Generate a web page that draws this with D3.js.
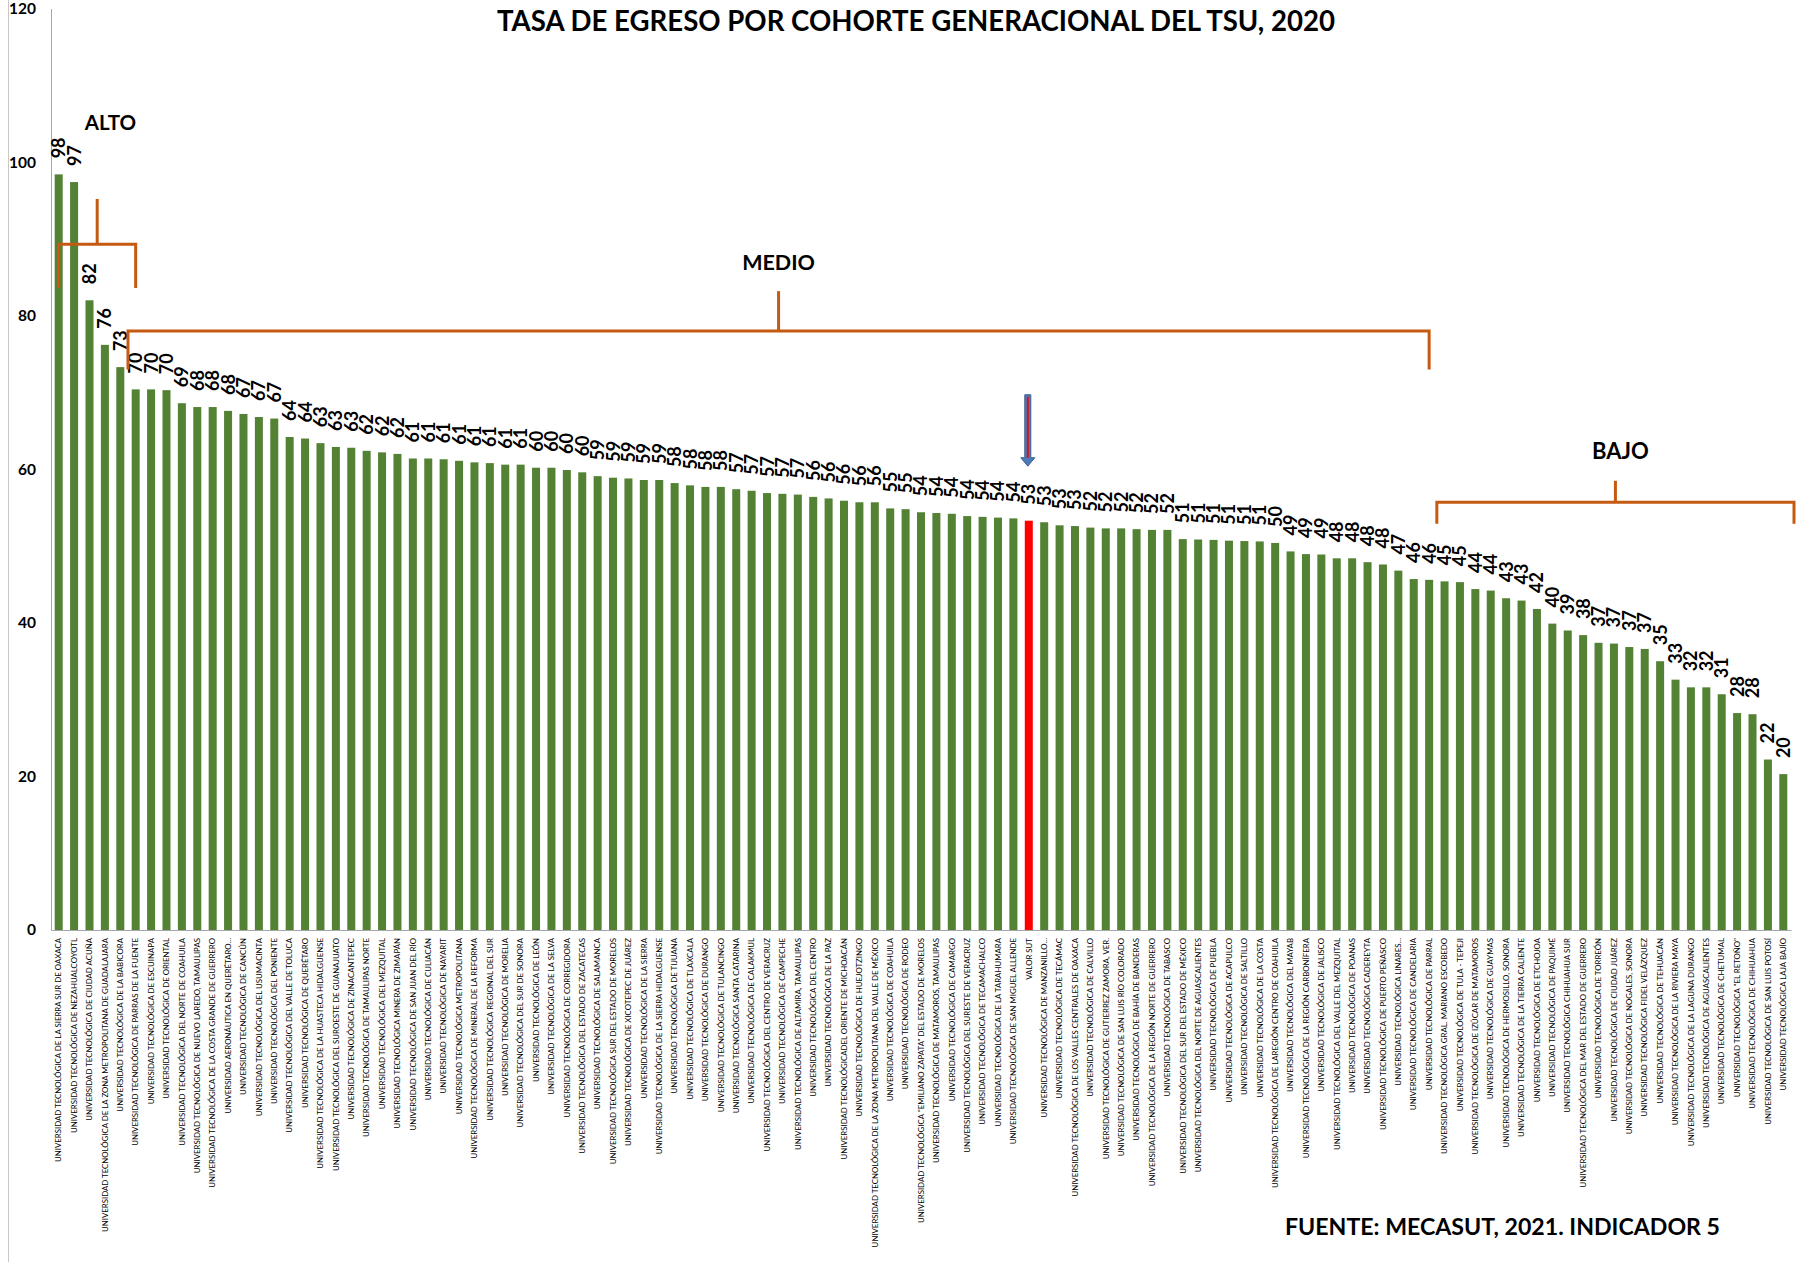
<!DOCTYPE html>
<html>
<head>
<meta charset="utf-8">
<script src="https://cdn.jsdelivr.net/npm/d3@7"></script>
<style>
  body { margin: 0; background: #fff; }
  svg { display: block; font-family: Lato, "Open Sans", sans-serif; }
</style>
</head>
<body>
<svg id="chart" width="1804" height="1262"></svg>
<script>
const titulo = "TASA DE EGRESO POR COHORTE GENERACIONAL DEL TSU, 2020";
const fuente = "FUENTE: MECASUT, 2021. INDICADOR 5";
const valorSut = "VALOR SUT";
const yTicks = [0, 20, 40, 60, 80, 100, 120];
const niveles = ["ALTO", "MEDIO", "BAJO"];

const universidades = [
  "UNIVERSIDAD TECNOLÓGICA DE LA SIERRA SUR DE OAXACA",
  "UNIVERSIDAD TECNOLÓGICA DE NEZAHUALCOYOTL",
  "UNIVERSIDAD TECNOLÓGICA DE CIUDAD ACUÑA",
  "UNIVERSIDAD TECNOLÓGICA DE LA ZONA METROPOLITANA DE GUADALAJARA",
  "UNIVERSIDAD TECNOLÓGICA DE LA BABICORA",
  "UNIVERSIDAD TECNOLÓGICA DE PARRAS DE LA FUENTE",
  "UNIVERSIDAD TECNOLÓGICA DE ESCUINAPA",
  "UNIVERSIDAD TECNOLÓGICA DE ORIENTAL",
  "UNIVERSIDAD TECNOLÓGICA DEL NORTE DE COAHUILA",
  "UNIVERSIDAD TECNOLÓGICA DE NUEVO LAREDO, TAMAULIPAS",
  "UNIVERSIDAD TECNOLÓGICA DE LA COSTA GRANDE DE GUERRERO",
  "UNIVERSIDAD AERONÁUTICA EN QUERÉTARO...",
  "UNIVERSIDAD TECNOLÓGICA DE CANCÚN",
  "UNIVERSIDAD TECNOLÓGICA DEL USUMACINTA",
  "UNIVERSIDAD TECNOLÓGICA DEL PONIENTE",
  "UNIVERSIDAD TECNOLÓGICA DEL VALLE DE TOLUCA",
  "UNIVERSIDAD TECNOLÓGICA DE QUERÉTARO",
  "UNIVERSIDAD TECNOLÓGICA DE LA HUASTECA HIDALGUENSE",
  "UNIVERSIDAD TECNOLÓGICA DEL SUROESTE DE GUANAJUATO",
  "UNIVERSIDAD TECNOLÓGICA DE ZINACANTEPEC",
  "UNIVERSIDAD TECNOLÓGICA DE TAMAULIPAS NORTE",
  "UNIVERSIDAD TECNOLÓGICA DEL MEZQUITAL",
  "UNIVERSIDAD TECNOLÓGICA MINERA DE ZIMAPÁN",
  "UNIVERSIDAD TECNOLÓGICA DE SAN JUAN DEL RÍO",
  "UNIVERSIDAD TECNOLÓGICA DE CULIACÁN",
  "UNIVERSIDAD TECNOLÓGICA DE NAYARIT",
  "UNIVERSIDAD TECNOLÓGICA METROPOLITANA",
  "UNIVERSIDAD TECNOLÓGICA DE MINERAL DE LA REFORMA",
  "UNIVERSIDAD TECNOLÓGICA REGIONAL DEL SUR",
  "UNIVERSIDAD TECNOLÓGICA DE MORELIA",
  "UNIVERSIDAD TECNOLÓGICA DEL SUR DE SONORA",
  "UNIVERSIDAD TECNOLÓGICA DE LEÓN",
  "UNIVERSIDAD TECNOLÓGICA DE LA SELVA",
  "UNIVERSIDAD TECNOLÓGICA DE CORREGIDORA",
  "UNIVERSIDAD TECNOLÓGICA DEL ESTADO DE ZACATECAS",
  "UNIVERSIDAD TECNOLÓGICA DE SALAMANCA",
  "UNIVERSIDAD TECNOLÓGICA SUR DEL ESTADO DE MORELOS",
  "UNIVERSIDAD TECNOLÓGICA DE XICOTEPEC DE JUÁREZ",
  "UNIVERSIDAD TECNOLÓGICA DE LA SIERRA",
  "UNIVERSIDAD TECNOLÓGICA DE LA SIERRA HIDALGUENSE",
  "UNIVERSIDAD TECNOLÓGICA DE TIJUANA",
  "UNIVERSIDAD TECNOLÓGICA DE TLAXCALA",
  "UNIVERSIDAD TECNOLÓGICA DE DURANGO",
  "UNIVERSIDAD TECNOLÓGICA DE TULANCINGO",
  "UNIVERSIDAD TECNOLÓGICA SANTA CATARINA",
  "UNIVERSIDAD TECNOLÓGICA DE CALAKMUL",
  "UNIVERSIDAD TECNOLÓGICA DEL CENTRO DE VERACRUZ",
  "UNIVERSIDAD TECNOLÓGICA DE CAMPECHE",
  "UNIVERSIDAD TECNOLÓGICA DE ALTAMIRA, TAMAULIPAS",
  "UNIVERSIDAD TECNOLÓGICA DEL CENTRO",
  "UNIVERSIDAD TECNOLÓGICA DE LA PAZ",
  "UNIVERSIDAD TECNOLÓGICADEL ORIENTE DE MICHOACÁN",
  "UNIVERSIDAD TECNOLÓGICA DE HUEJOTZINGO",
  "UNIVERSIDAD TECNOLÓGICA DE LA ZONA METROPOLITANA DEL VALLE DE MÉXICO",
  "UNIVERSIDAD TECNOLÓGICA DE COAHUILA",
  "UNIVERSIDAD TECNOLÓGICA DE RODEO",
  "UNIVERSIDAD TECNOLÓGICA \"EMILIANO ZAPATA\" DEL ESTADO DE MORELOS",
  "UNIVERSIDAD TECNOLÓGICA DE MATAMOROS, TAMAULIPAS",
  "UNIVERSIDAD TECNOLÓGICA DE CAMARGO",
  "UNIVERSIDAD TECNOLÓGICA DEL SURESTE DE VERACRUZ",
  "UNIVERSIDAD TECNOLÓGICA DE TECAMACHALCO",
  "UNIVERSIDAD TECNOLÓGICA DE LA TARAHUMARA",
  "UNIVERSIDAD TECNOLÓGICA DE SAN MIGUEL ALLENDE",
  "VALOR SUT",
  "UNIVERSIDAD TECNOLÓGICA DE MANZANILLO...",
  "UNIVERSIDAD TECNOLÓGICA DE TECÁMAC",
  "UNIVERSIDAD TECNOLÓGICA DE LOS VALLES CENTRALES DE OAXACA",
  "UNIVERSIDAD TECNOLÓGICA DE CALVILLO",
  "UNIVERSIDAD TECNOLÓGICA DE GUTIERREZ ZAMORA, VER.",
  "UNIVERSIDAD TECNOLÓGICA DE SAN LUIS RÍO COLORADO",
  "UNIVERSIDAD TECNOLÓGICA DE BAHÍA DE BANDERAS",
  "UNIVERSIDAD TECNOLÓGICA DE LA REGIÓN NORTE DE GUERRERO",
  "UNIVERSIDAD TECNOLÓGICA DE TABASCO",
  "UNIVERSIDAD TECNOLÓGICA DEL SUR DEL ESTADO DE MÉXICO",
  "UNIVERSIDAD TECNOLÓGICA DEL NORTE DE AGUASCALIENTES",
  "UNIVERSIDAD TECNOLÓGICA DE PUEBLA",
  "UNIVERSIDAD TECNOLÓGICA DE ACAPULCO",
  "UNIVERSIDAD TECNOLÓGICA DE SALTILLO",
  "UNIVERSIDAD TECNOLÓGICA DE LA COSTA",
  "UNIVERSIDAD TECNOLÓGICA DE LAREGIÓN CENTRO DE COAHUILA",
  "UNIVERSIDAD TECNOLÓGICA DEL MAYAB",
  "UNIVERSIDAD TECNOLÓGICA DE LA REGIÓN CARBONÍFERA",
  "UNIVERSIDAD TECNOLÓGICA DE JALISCO",
  "UNIVERSIDAD TECNOLÓGICA DEL VALLE DEL MEZQUITAL",
  "UNIVERSIDAD TECNOLÓGICA DE POANAS",
  "UNIVERSIDAD TECNOLÓGICA CADEREYTA",
  "UNIVERSIDAD TECNOLÓGICA DE PUERTO PEÑASCO",
  "UNIVERSIDAD TECNOLÓGICA LINARES...",
  "UNIVERSIDAD TECNOLÓGICA DE CANDELARIA",
  "UNIVERSIDAD TECNOLÓGICA DE PARRAL",
  "UNIVERSIDAD TECNOLÓGICA GRAL. MARIANO ESCOBEDO",
  "UNIVERSIDAD TECNOLÓGICA DE TULA - TEPEJI",
  "UNIVERSIDAD TECNOLÓGICA DE IZÚCAR DE MATAMOROS",
  "UNIVERSIDAD TECNOLÓGICA DE GUAYMAS",
  "UNIVERSIDAD TECNOLÓGICA DE HERMOSILLO, SONORA",
  "UNIVERSIDAD TECNOLÓGICA DE LA TIERRA CALIENTE",
  "UNIVERSIDAD TECNOLÓGICA DE ETCHOJOA",
  "UNIVERSIDAD TECNOLÓGICA DE PAQUIMÉ",
  "UNIVERSIDAD TECNOLÓGICA CHIHUAHUA SUR",
  "UNIVERSIDAD TECNOLÓGICA DEL MAR DEL ESTADO DE GUERRERO",
  "UNIVERSIDAD TECNOLÓGICA DE TORREÓN",
  "UNIVERSIDAD TECNOLÓGICA DE CIUDAD JUÁREZ",
  "UNIVERSIDAD TECNOLÓGICA DE NOGALES, SONORA",
  "UNIVERSIDAD TECNOLÓGICA FIDEL VELÁZQUEZ",
  "UNIVERSIDAD TECNOLÓGICA DE TEHUACÁN",
  "UNIVERSIDAD TECNOLÓGICA DE LA RIVIERA MAYA",
  "UNIVERSIDAD TECNOLÓGICA DE LA LAGUNA DURANGO",
  "UNIVERSIDAD TECNOLÓGICA DE AGUASCALIENTES",
  "UNIVERSIDAD TECNOLÓGICA DE CHETUMAL",
  "UNIVERSIDAD TECNOLÓGICA \"EL RETOÑO\"",
  "UNIVERSIDAD TECNOLÓGICA DE CHIHUAHUA",
  "UNIVERSIDAD TECNOLÓGICA DE SAN LUIS POTOSÍ",
  "UNIVERSIDAD TECNOLÓGICA LAJA BAJÍO",
];

const tasas = [
  98.4, 97.4, 82.0, 76.2, 73.3, 70.4, 70.4, 70.3, 68.6, 68.1,
  68.1, 67.6, 67.2, 66.8, 66.6, 64.2, 64.0, 63.4, 62.9, 62.8,
  62.4, 62.2, 62.0, 61.4, 61.4, 61.3, 61.1, 60.9, 60.8, 60.6,
  60.6, 60.2, 60.2, 59.9, 59.6, 59.1, 58.9, 58.8, 58.6, 58.6,
  58.2, 57.9, 57.7, 57.7, 57.4, 57.2, 56.9, 56.8, 56.7, 56.4,
  56.2, 55.9, 55.7, 55.7, 54.9, 54.8, 54.4, 54.3, 54.2, 53.9,
  53.8, 53.7, 53.6, 53.3, 53.1, 52.7, 52.6, 52.4, 52.3, 52.3,
  52.2, 52.1, 52.1, 50.9, 50.85, 50.8, 50.7, 50.65, 50.6, 50.4,
  49.3, 48.95, 48.9, 48.4, 48.4, 47.9, 47.6, 46.8, 45.7, 45.6,
  45.4, 45.3, 44.4, 44.2, 43.2, 42.9, 41.8, 39.9, 39.0, 38.4,
  37.4, 37.3, 36.85, 36.6, 35.0, 32.6, 31.6, 31.6, 30.7, 28.25,
  28.1, 22.2, 20.3,
];

const svg = d3.select("#chart");
const width = +svg.attr("width"),
  height = +svg.attr("height");

const green = "#548235",
  red = "#ff0000",
  orange = "#c55a11",
  axisGray = "#a6a6a6";

const data = universidades.map((name, i) => ({ i, name, value: tasas[i] }));

svg.append("rect").attr("width", width).attr("height", height).attr("fill", "#fff");

// borde izquierdo del area del grafico
svg
  .append("line")
  .attr("x1", 8.5)
  .attr("x2", 8.5)
  .attr("y1", 0)
  .attr("y2", height)
  .attr("stroke", "#c8c8c8");

const xScale = d3
  .scaleBand()
  .domain(data.map((d) => d.i))
  .range([51, 1791])
  .paddingInner(0.48)
  .paddingOuter(0.24);

const yScale = d3.scaleLinear().domain([0, 120]).range([930, 8.5]);

const bw = xScale.bandwidth();
const cx = (i) => xScale(i) + bw / 2;
const gapHalf = (xScale.step() - bw) / 2;

// ejes
const gy = svg.append("g").attr("transform", `translate(${xScale.range()[0]},0)`);
gy.call(d3.axisLeft(yScale).tickValues(yTicks).tickSize(0).tickPadding(15))
  .call((g) => g.select(".domain").attr("stroke", axisGray))
  .call((g) =>
    g
      .selectAll("text")
      .attr("font-family", "Lato, sans-serif")
      .attr("font-size", 15.5)
      .attr("font-weight", "bold")
      .attr("fill", "#000")
  );

const gx = svg.append("g").attr("transform", `translate(0,${yScale(0)})`);
gx.call(
  d3
    .axisBottom(xScale)
    .tickSize(0)
    .tickFormat((i) => universidades[i])
)
  .call((g) => g.select(".domain").attr("stroke", axisGray))
  .call((g) =>
    g
      .selectAll("text")
      .attr("font-family", "Lato, sans-serif")
      .attr("font-size", 7.85)
      .attr("fill", "#000")
      .attr("transform", "rotate(-90)")
      .attr("x", -8)
      .attr("y", 0)
      .attr("dy", "0.35em")
      .style("text-anchor", "end")
  );

// barras
svg
  .append("g")
  .selectAll("rect")
  .data(data)
  .join("rect")
  .attr("x", (d) => xScale(d.i))
  .attr("y", (d) => yScale(d.value))
  .attr("width", bw)
  .attr("height", (d) => yScale(0) - yScale(d.value))
  .attr("fill", (d) => (d.name === valorSut ? red : green));

// etiquetas de valor
svg
  .append("g")
  .selectAll("text")
  .data(data)
  .join("text")
  .attr(
    "transform",
    (d) => `translate(${cx(d.i)},${yScale(d.value) - 16}) rotate(-90)`
  )
  .attr("dy", "0.36em")
  .attr("font-size", 18)
  .attr("font-weight", "bold")
  .attr("fill", "#000")
  .text((d) => d3.format(".0f")(d.value));

// corchetes de niveles
const brackets = svg
  .append("g")
  .attr("fill", "none")
  .attr("stroke", orange)
  .attr("stroke-width", 3);

function bracket(x0, x1, yLine, yLeg, yStem) {
  const xm = (x0 + x1) / 2;
  brackets
    .append("path")
    .attr("d", `M${x0},${yLeg}V${yLine}H${x1}V${yLeg}`);
  brackets
    .append("path")
    .attr("d", `M${xm},${yLine}V${yStem}`);
  return xm;
}

const nivelLabel = (x, y, txt, size, anchor) =>
  svg
    .append("text")
    .attr("x", x)
    .attr("y", y)
    .attr("text-anchor", anchor)
    .attr("font-size", size)
    .attr("font-weight", "bold")
    .attr("fill", "#000")
    .text(txt);

const altoX0 = cx(0),
  altoX1 = cx(5);
bracket(altoX0, altoX1, yScale(89.3), yScale(83.6), yScale(95.2));
nivelLabel(altoX0 + 26, yScale(104.2), niveles[0], 20.5, "start");

const medioX0 = xScale(5) - gapHalf,
  medioX1 = cx(89);
const medioXm = bracket(medioX0, medioX1, yScale(78), yScale(73), yScale(83.2));
nivelLabel(medioXm, yScale(85.9), niveles[1], 21.5, "middle");

const bajoX0 = xScale(90) - gapHalf,
  bajoX1 = xScale.range()[1] + 3;
const bajoXm = bracket(bajoX0, bajoX1, yScale(55.7), yScale(52.9), yScale(58.5));
nivelLabel(bajoXm + 5, yScale(61.3), niveles[2], 22, "middle");

// flecha sobre el valor SUT
const sutIdx = universidades.indexOf(valorSut);
const ax = cx(sutIdx) - 1;
const aTop = yScale(69.7),
  aNeck = yScale(61.5),
  aTip = yScale(60.4);
svg
  .append("path")
  .attr(
    "d",
    `M${ax - 3},${aTop}H${ax + 3}V${aNeck}H${ax + 7}L${ax},${aTip}L${ax - 7},${aNeck}H${ax - 3}Z`
  )
  .attr("fill", "#4f7ab8")
  .attr("stroke", "#3a5f94")
  .attr("stroke-width", 1);
svg
  .append("line")
  .attr("x1", ax)
  .attr("x2", ax)
  .attr("y1", aTop + 2)
  .attr("y2", aNeck)
  .attr("stroke", "#e01010")
  .attr("stroke-width", 2);

// titulo y fuente
svg
  .append("text")
  .attr("x", 916)
  .attr("y", 31)
  .attr("text-anchor", "middle")
  .attr("font-size", 28)
  .attr("font-weight", "bold")
  .attr("textLength", 838)
  .attr("lengthAdjust", "spacingAndGlyphs")
  .text(titulo);

svg
  .append("text")
  .attr("x", 1285)
  .attr("y", 1235)
  .attr("font-size", 23)
  .attr("font-weight", "bold")
  .attr("textLength", 435)
  .attr("lengthAdjust", "spacingAndGlyphs")
  .text(fuente);
</script>
</body>
</html>
